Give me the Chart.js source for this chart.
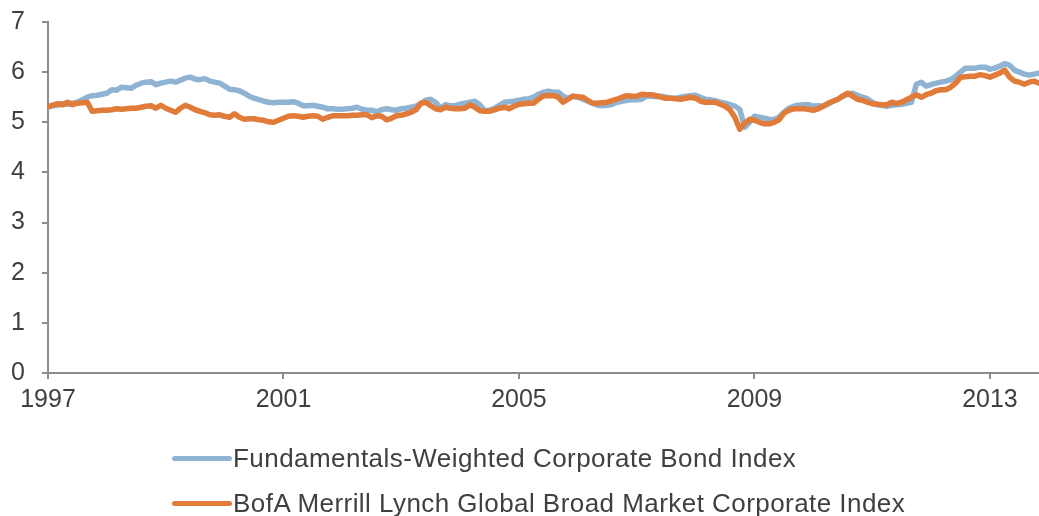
<!DOCTYPE html>
<html>
<head>
<meta charset="utf-8">
<script src="https://cdn.jsdelivr.net/npm/chart.js@4.4.1/dist/chart.umd.min.js"></script>
<style>
  html, body { margin: 0; padding: 0; background: #fff; }
  #wrap { position: relative; width: 1039px; height: 516px; }
  #legend { position: absolute; left: 172px; top: 436px; font-family: "Liberation Sans", Arial, sans-serif; font-size: 26px; letter-spacing: 0.45px; color: #404040; }
  .legend-row { height: 45px; display: flex; align-items: center; }
  .legend-line { display: inline-block; width: 60px; height: 5px; border-radius: 3px; margin-right: 1px; }
</style>
</head>
<body>
<div id="wrap">
  <canvas id="yieldChart" width="1039" height="516"></canvas>
  <div id="legend"></div>
</div>
<script>
  const seriesNames = [
    "Fundamentals-Weighted Corporate Bond Index",
    "BofA Merrill Lynch Global Broad Market Corporate Index"
  ];
  const seriesColors = ["#8FB3D3", "#E07B39"];
  const startYear = 1997;   // monthly data, Jan 1997 .. Nov 2013
  const xTickYears = [1997, 2001, 2005, 2009, 2013];
  const yTicks = [0, 1, 2, 3, 4, 5, 6, 7];

  // Fundamentals-Weighted, one row per year
  const fundValues = [
    5.30, 5.33, 5.34, 5.37, 5.36, 5.38, 5.40, 5.45, 5.50, 5.53, 5.54, 5.56,
    5.58, 5.65, 5.64, 5.70, 5.69, 5.68, 5.74, 5.78, 5.80, 5.81, 5.75, 5.78,
    5.80, 5.82, 5.80, 5.84, 5.88, 5.90, 5.86, 5.85, 5.87, 5.82, 5.80, 5.78,
    5.72, 5.66, 5.65, 5.63, 5.58, 5.52, 5.48, 5.45, 5.42, 5.40, 5.39, 5.40,
    5.40, 5.40, 5.41, 5.38, 5.33, 5.33, 5.34, 5.32, 5.30, 5.27, 5.27, 5.26,
    5.26, 5.27, 5.28, 5.30, 5.26, 5.24, 5.24, 5.21, 5.25, 5.27, 5.25, 5.24,
    5.27, 5.28, 5.30, 5.32, 5.37, 5.44, 5.46, 5.40, 5.28, 5.35, 5.33, 5.33,
    5.36, 5.38, 5.40, 5.42, 5.35, 5.23, 5.24, 5.28, 5.34, 5.40, 5.41, 5.42,
    5.44, 5.46, 5.47, 5.50, 5.56, 5.60, 5.62, 5.60, 5.60, 5.52, 5.48, 5.52,
    5.50, 5.46, 5.42, 5.38, 5.34, 5.33, 5.34, 5.36, 5.40, 5.42, 5.44, 5.45,
    5.45, 5.46, 5.52, 5.52, 5.51, 5.52, 5.50, 5.48, 5.48, 5.50, 5.52, 5.53,
    5.54, 5.50, 5.46, 5.45, 5.43, 5.40, 5.38, 5.35, 5.32, 5.26, 4.90, 5.00,
    5.12, 5.10, 5.08, 5.06, 5.05, 5.10, 5.20, 5.28, 5.32, 5.34, 5.35, 5.35,
    5.32, 5.33, 5.32, 5.36, 5.42, 5.46, 5.52, 5.56, 5.58, 5.54, 5.50, 5.47,
    5.40, 5.35, 5.34, 5.32, 5.34, 5.35, 5.36, 5.38, 5.40, 5.76, 5.80, 5.72,
    5.75, 5.78, 5.80, 5.82, 5.85, 5.92, 6.00, 6.08, 6.08, 6.08, 6.10, 6.10,
    6.06, 6.08, 6.12, 6.17, 6.14, 6.04, 6.00, 5.96, 5.94, 5.96, 5.98
  ];

  // BofA Merrill Lynch, one row per year
  const bofaValues = [
    5.31, 5.34, 5.37, 5.35, 5.40, 5.35, 5.38, 5.39, 5.40, 5.22, 5.23, 5.24,
    5.24, 5.25, 5.27, 5.26, 5.27, 5.28, 5.28, 5.30, 5.32, 5.33, 5.28, 5.34,
    5.28, 5.24, 5.20, 5.28, 5.34, 5.30, 5.25, 5.22, 5.19, 5.15, 5.14, 5.15,
    5.12, 5.10, 5.17, 5.10, 5.06, 5.07, 5.07, 5.05, 5.04, 5.01, 5.00, 5.04,
    5.08, 5.12, 5.13, 5.12, 5.10, 5.12, 5.13, 5.12, 5.06, 5.10, 5.13, 5.13,
    5.13, 5.13, 5.14, 5.14, 5.15, 5.15, 5.09, 5.13, 5.12, 5.05, 5.08, 5.13,
    5.14, 5.17, 5.20, 5.25, 5.38, 5.40, 5.33, 5.27, 5.25, 5.30, 5.28, 5.27,
    5.27, 5.28, 5.35, 5.30, 5.23, 5.22, 5.22, 5.25, 5.28, 5.30, 5.27, 5.32,
    5.36, 5.37, 5.38, 5.38, 5.46, 5.53, 5.53, 5.53, 5.50, 5.40, 5.46, 5.52,
    5.51, 5.50, 5.44, 5.38, 5.38, 5.39, 5.40, 5.43, 5.46, 5.50, 5.53, 5.52,
    5.52, 5.56, 5.55, 5.55, 5.53, 5.50, 5.48, 5.48, 5.47, 5.46, 5.48, 5.50,
    5.48, 5.42, 5.40, 5.40, 5.40, 5.36, 5.32, 5.25, 5.10, 4.86, 4.98, 5.06,
    5.04, 5.00, 4.97, 4.97, 5.00, 5.05, 5.18, 5.24, 5.27, 5.27, 5.27, 5.26,
    5.24, 5.27, 5.32, 5.38, 5.42, 5.46, 5.52, 5.58, 5.52, 5.46, 5.44, 5.40,
    5.37, 5.36, 5.35, 5.35, 5.40, 5.37, 5.40, 5.45, 5.50, 5.55, 5.50, 5.55,
    5.58, 5.63, 5.65, 5.65, 5.70, 5.78, 5.90, 5.91, 5.92, 5.92, 5.95, 5.93,
    5.90, 5.94, 5.98, 6.04, 5.90, 5.82, 5.80, 5.76, 5.80, 5.82, 5.78
  ];

  const toPoints = vals => vals.map((v, i) => ({ x: startYear + i / 12, y: v }));
  const lastX = startYear + (fundValues.length - 1) / 12;
  const axisGray = '#8C8C8C';
  const textGray = '#404040';
  const tickFont = { family: '"Liberation Sans", Arial, sans-serif', size: 25 };

  const ctx = document.getElementById('yieldChart').getContext('2d');
  new Chart(ctx, {
    type: 'line',
    data: {
      datasets: [
        {
          label: seriesNames[0],
          data: toPoints(fundValues),
          borderColor: seriesColors[0],
          borderWidth: 5.5,
          order: 1
        },
        {
          label: seriesNames[1],
          data: toPoints(bofaValues),
          borderColor: seriesColors[1],
          borderWidth: 5.5,
          order: 0
        }
      ]
    },
    options: {
      responsive: false,
      animation: false,
      devicePixelRatio: 1,
      layout: { padding: { left: 0, right: 0, top: 0, bottom: 95 } },
      elements: {
        point: { radius: 0 },
        line: { tension: 0, borderJoinStyle: 'round', borderCapStyle: 'round' }
      },
      plugins: { legend: { display: false }, tooltip: { enabled: false } },
      scales: {
        x: {
          type: 'linear',
          min: startYear,
          max: lastX,
          afterBuildTicks: axis => { axis.ticks = xTickYears.map(v => ({ value: v })); },
          ticks: { color: textGray, font: tickFont, padding: 6, maxRotation: 0, callback: v => String(v) },
          grid: { drawOnChartArea: false, drawTicks: true, tickLength: 6, color: axisGray, lineWidth: 2 },
          border: { display: true, color: axisGray, width: 2 }
        },
        y: {
          min: 0,
          max: 7,
          afterBuildTicks: axis => { axis.ticks = yTicks.map(v => ({ value: v })); },
          afterFit: axis => { axis.width = 48; axis.paddingTop = 22; },
          ticks: { color: textGray, font: tickFont, padding: 17 },
          grid: { drawOnChartArea: false, drawTicks: true, tickLength: 6, color: axisGray, lineWidth: 2 },
          border: { display: true, color: axisGray, width: 2 }
        }
      }
    }
  });

  // Custom legend, stacked rows left-aligned
  let legendHTML = "";
  seriesNames.forEach((name, i) => {
    legendHTML += `<div class="legend-row"><span class="legend-line" style="background:${seriesColors[i]}"></span>${name}</div>`;
  });
  document.getElementById('legend').innerHTML = legendHTML;
</script>
</body>
</html>
